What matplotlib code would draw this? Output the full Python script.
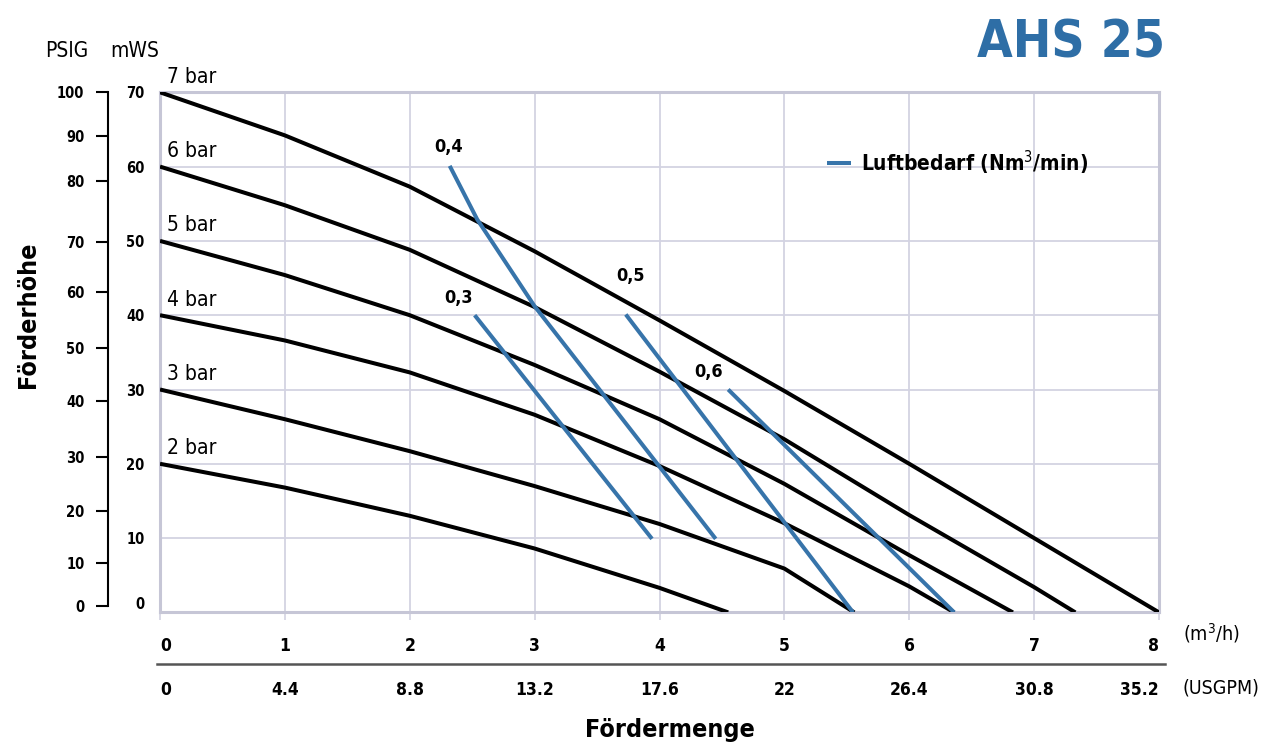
import numpy as np
import matplotlib.pyplot as plt
from matplotlib.transforms import ScaledTranslation, blended_transform_factory

# pump curves AHS 25 (x in m3/h, y in mWS)
bar_7_x = [0, 1, 2, 3, 4, 5, 6, 7, 8]
bar_7_y = [70, 64.2, 57.3, 48.6, 39.3, 29.8, 20.0, 10.0, 0]
bar_6_x = [0, 1, 2, 3, 4, 5, 6, 7, 7.33]
bar_6_y = [60, 54.8, 48.8, 41.1, 32.4, 23.3, 13.1, 3.4, 0]
bar_5_x = [0, 1, 2, 3, 4, 5, 6, 6.83]
bar_5_y = [50, 45.4, 40.0, 33.3, 26.0, 17.3, 7.7, 0]
bar_4_x = [0, 1, 2, 3, 4, 5, 6, 6.36]
bar_4_y = [40, 36.6, 32.3, 26.6, 19.7, 12.0, 3.5, 0]
bar_3_x = [0, 1, 2, 3, 4, 5, 5.56]
bar_3_y = [30, 26.0, 21.7, 17.0, 11.9, 5.9, 0]
bar_2_x = [0, 1, 2, 3, 4, 4.55]
bar_2_y = [20, 16.8, 13.0, 8.6, 3.3, 0]
bar_labels = ['7 bar', '6 bar', '5 bar', '4 bar', '3 bar', '2 bar']

# air consumption lines (Nm3/min)
air_03_x = [2.52, 3.94]
air_03_y = [40.0, 9.9]
air_04_x = [2.32, 2.54, 3.0, 4.45]
air_04_y = [60.1, 52.9, 41.2, 9.9]
air_05_x = [3.73, 5.55]
air_05_y = [40.1, 0]
air_06_x = [4.55, 6.36]
air_06_y = [30.0, 0]
air_labels = ['0,3', '0,4', '0,5', '0,6']

flow_ticks = [0, 1, 2, 3, 4, 5, 6, 7, 8]
usgpm_labels = ['0', '4.4', '8.8', '13.2', '17.6', '22', '26.4', '30.8', '35.2']
mws_ticks = [0, 10, 20, 30, 40, 50, 60, 70]
psig_labels = [100, 90, 80, 70, 60, 50, 40, 30, 20, 10, 0]
psig_pos = [70.0, 64.1, 58.0, 49.8, 43.1, 35.6, 28.5, 20.9, 13.6, 6.7, 0.8]

W, H = 1266, 749
BLUE = '#3774aa'
GRID = '#d3d3e2'

plt.rcParams['font.family'] = ['DejaVu Sans']
plt.rcParams['font.stretch'] = 'condensed'

fig = plt.figure(figsize=(W/100, H/100), dpi=100)
left, right, top, bottom = 160/W, 1159/W, 1-92.3/H, 1-612.4/H
ax = fig.add_axes([left, bottom, right-left, top-bottom])
ax.set_xlim(0, 8)
ax.set_ylim(0, 70)

ax.set_xticks(flow_ticks)
ax.set_yticks(mws_ticks)
ax.grid(True, color=GRID, lw=1.3)
ax.set_axisbelow(True)
for s in ax.spines.values():
    s.set_color('#c6c6d6')
    s.set_linewidth(2.2)
ax.tick_params(axis='x', length=6, width=1.2, color=GRID, pad=12, labelsize=12.5)
ax.tick_params(axis='y', length=0, pad=11, labelsize=10.5)
for lbl in ax.get_xticklabels() + ax.get_yticklabels():
    lbl.set_fontweight('bold')
xl = ax.get_xticklabels()
xl[0].set_ha('left')
xl[-1].set_ha('right')
# the 0 mWS label sits a bit above the axis
yl = ax.get_yticklabels()
yl[0].set_transform(yl[0].get_transform() + ScaledTranslation(0, 7/72, fig.dpi_scale_trans))

curves = [(bar_7_x, bar_7_y), (bar_6_x, bar_6_y), (bar_5_x, bar_5_y),
          (bar_4_x, bar_4_y), (bar_3_x, bar_3_y), (bar_2_x, bar_2_y)]
for (cx, cy), lab in zip(curves, bar_labels):
    ax.plot(cx, cy, color='black', lw=2.9, solid_capstyle='butt',
            solid_joinstyle='round', zorder=3)
    ax.text(0.056, cy[0] + 1.3, lab, fontsize=15, va='baseline', ha='left',
            clip_on=False)

air = [(air_03_x, air_03_y, (2.39, 42.3)), (air_04_x, air_04_y, (2.31, 62.6)),
       (air_05_x, air_05_y, (3.77, 45.3)), (air_06_x, air_06_y, (4.39, 32.4))]
for (ax_x, ax_y, pos), lab in zip(air, air_labels):
    ax.plot(ax_x, ax_y, color=BLUE, lw=2.9, solid_capstyle='butt',
            solid_joinstyle='round', zorder=4)
    ax.text(pos[0], pos[1], lab, fontsize=13, fontweight='bold',
            ha='center', va='center', zorder=5)

# legend
ax.plot([5.345, 5.53], [60.5, 60.5], color=BLUE, lw=2.9, solid_capstyle='butt')
ax.text(5.616, 60.5, 'Luftbedarf (Nm$^3$/min)', fontsize=15, fontweight='bold',
        va='center', ha='left')

# PSIG scale on the far left
axp = fig.add_axes([108/W, bottom, 0.0005, top-bottom])
axp.set_ylim(0, 70)
axp.set_xticks([])
for k in ['top', 'right', 'bottom']:
    axp.spines[k].set_visible(False)
axp.spines['left'].set_linewidth(1.5)
axp.spines['left'].set_bounds(psig_pos[-1], psig_pos[0])
axp.set_yticks(psig_pos)
axp.set_yticklabels([str(v) for v in psig_labels])
axp.tick_params(axis='y', length=9, width=1.5, pad=8, labelsize=10.5)
for lbl in axp.get_yticklabels():
    lbl.set_fontweight('bold')

# USGPM row under the m3/h row
tr = blended_transform_factory(ax.transData, fig.transFigure)
for i, (xv, lab) in enumerate(zip(flow_ticks, usgpm_labels)):
    ha = 'left' if i == 0 else ('right' if i == len(flow_ticks)-1 else 'center')
    ax.text(xv, 1-690/H, lab, transform=tr, fontsize=12.5, fontweight='bold',
            ha=ha, va='center')
fig.add_artist(plt.Line2D([157/W, 1165/W], [1-664/H, 1-664/H],
                          color='#555555', lw=1.8))

fig.text(1183/W, 1-633/H, '(m$^3$/h)', fontsize=14, va='center', ha='left')
fig.text(1183/W, 1-688/H, '(USGPM)', fontsize=14, va='center', ha='left')
fig.text(670/W, 1-730/H, 'Fördermenge', fontsize=18, fontweight='bold',
         ha='center', va='center')
fig.text(28/W, 1-315/H, 'Förderhöhe', fontsize=18, fontweight='bold',
         rotation=90, ha='center', va='center')
fig.text(45/W, 1-57/H, 'PSIG', fontsize=15, ha='left', va='baseline')
fig.text(110/W, 1-57/H, 'mWS', fontsize=15, ha='left', va='baseline')
fig.text(1165/W, 1-57/H, 'AHS 25', fontsize=37, fontweight='bold', color='#2e6ea6',
         ha='right', va='baseline')

fig.savefig('out.png', dpi=100)
